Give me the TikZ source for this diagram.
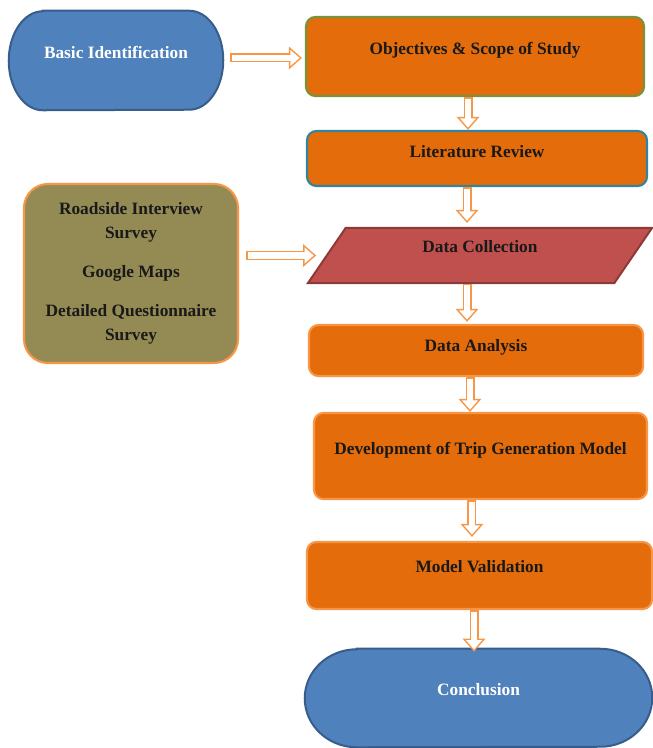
\documentclass[tikz,border=0pt]{standalone}
\usepackage{fontspec}
\setmainfont{Liberation Serif}
\usepackage{tikz}
\usetikzlibrary{shapes,arrows.meta,backgrounds}

\definecolor{boxorange}{HTML}{E46C0A}
\definecolor{lineorange}{HTML}{F79646}
\definecolor{lineolive}{HTML}{77933C}
\definecolor{lineteal}{HTML}{31859C}
\definecolor{boxolive}{HTML}{948A54}
\definecolor{boxred}{HTML}{C0504D}
\definecolor{linered}{HTML}{8C3A38}
\definecolor{termblue}{HTML}{4F81BD}
\definecolor{termline}{HTML}{385D8A}

\begin{document}
\begin{tikzpicture}[x=0.75pt, y=-0.75pt,
      every node/.style={font=\fontsize{13pt}{18pt}\selectfont\bfseries, text=black!90, align=center, inner sep=0pt},
      box/.style={rectangle, rounded corners=7pt, fill=boxorange, draw=lineorange, line width=1.6pt},
      txt/.style={text height=9pt, text depth=#1},
      term/.style={fill=termblue, draw=termline, line width=1.5pt},
      hollow/.style={draw=white, line width=4.5pt, -{Triangle[length=6.9pt, width=11.6pt]},
          shorten >=1.75pt, shorten <=1.1pt,
          preaction={draw=lineorange, line width=6.75pt, -{Triangle[length=9.75pt, width=16.5pt]},
              shorten >=0pt, shorten <=0pt}}]
    \useasboundingbox (0,0) rectangle (652,748);
    \node[minimum width=160.5pt, minimum height=74.25pt, text=white, txt=11.6pt] (basic) at (116,60.5) {Basic Identification};
    \node[box, draw=lineolive, minimum width=253.5pt, minimum height=59.25pt, txt=11.6pt] (obj) at (475,56.5) {Objectives \& Scope of Study};
    \node[box, draw=lineteal, minimum width=255pt, minimum height=41.25pt, txt=10.2pt] (lit) at (477,158.5) {Literature Review};
    \node[box, rounded corners=18pt, fill=boxolive, minimum width=160.5pt, minimum height=134.25pt] (src) at (131,273.5)
        {Roadside Interview\\Survey\\[11pt]Google Maps\\[11pt]Detailed Questionnaire\\Survey};
    \node[trapezium, trapezium left angle=38.2, trapezium right angle=141.8, trapezium stretches body,
        fill=boxred, draw=linered, line width=1.5pt, minimum width=258pt, minimum height=41.25pt, txt=13.2pt] (dc) at (480,255.5) {Data Collection};
    \node[box, minimum width=250.5pt, minimum height=38.25pt, txt=7.2pt] (ana) at (476,350.5) {Data Analysis};
    \node[box, minimum width=249.75pt, minimum height=64.5pt, txt=10.9pt] (dev) at (480.5,456) {Development of Trip Generation Model};
    \node[box, minimum width=258.75pt, minimum height=50.25pt, txt=13.2pt] (val) at (479.5,575.5) {Model Validation};
    \node[minimum width=260.25pt, minimum height=73.5pt, text=white, txt=12.4pt] (con) at (478.5,698) {Conclusion};

    \begin{scope}[on background layer]
        \path[term] ([xshift=25.5pt]basic.north west) -- ([xshift=-25.5pt]basic.north east)
            arc[start angle=90, end angle=-90, x radius=25.5pt, y radius=37.125pt]
            -- ([xshift=25.5pt]basic.south west)
            arc[start angle=270, end angle=90, x radius=25.5pt, y radius=37.125pt] -- cycle;
        \path[term] ([xshift=39pt]con.north west) -- ([xshift=-39pt]con.north east)
            arc[start angle=90, end angle=-90, x radius=39pt, y radius=36.75pt]
            -- ([xshift=39pt]con.south west)
            arc[start angle=270, end angle=90, x radius=39pt, y radius=36.75pt] -- cycle;
    \end{scope}

    \draw[hollow] ([xshift=5.25pt, yshift=1.9pt]basic.east) -- ([xshift=-2.25pt, yshift=1.9pt]basic.east -| obj.west);
    \draw[hollow] ([xshift=-5.25pt]obj.south) -- ([xshift=-5.25pt]obj.south |- lit.north);
    \draw[hollow] ([xshift=-7.5pt]lit.south) -- ([xshift=-7.5pt, yshift=3pt]lit.south |- dc.north);
    \draw[hollow] ([xshift=5.25pt]src.east |- dc.west) -- ([xshift=7.5pt]dc.bottom left corner |- dc.west);
    \draw[hollow] ([xshift=-6.75pt]ana.north |- dc.south) -- ([xshift=-6.75pt, yshift=1.5pt]ana.north);
    \draw[hollow] ([xshift=-4.5pt]ana.south) -- ([xshift=-4.5pt]ana.south |- dev.north);
    \draw[hollow] ([xshift=-6.4pt]dev.south) -- ([xshift=-6.4pt, yshift=3pt]dev.south |- val.north);
    \draw[hollow] ([xshift=-4.1pt]val.south) -- ([xshift=-4.1pt, yshift=-2.25pt]val.south |- con.north);
\end{tikzpicture}
\end{document}
